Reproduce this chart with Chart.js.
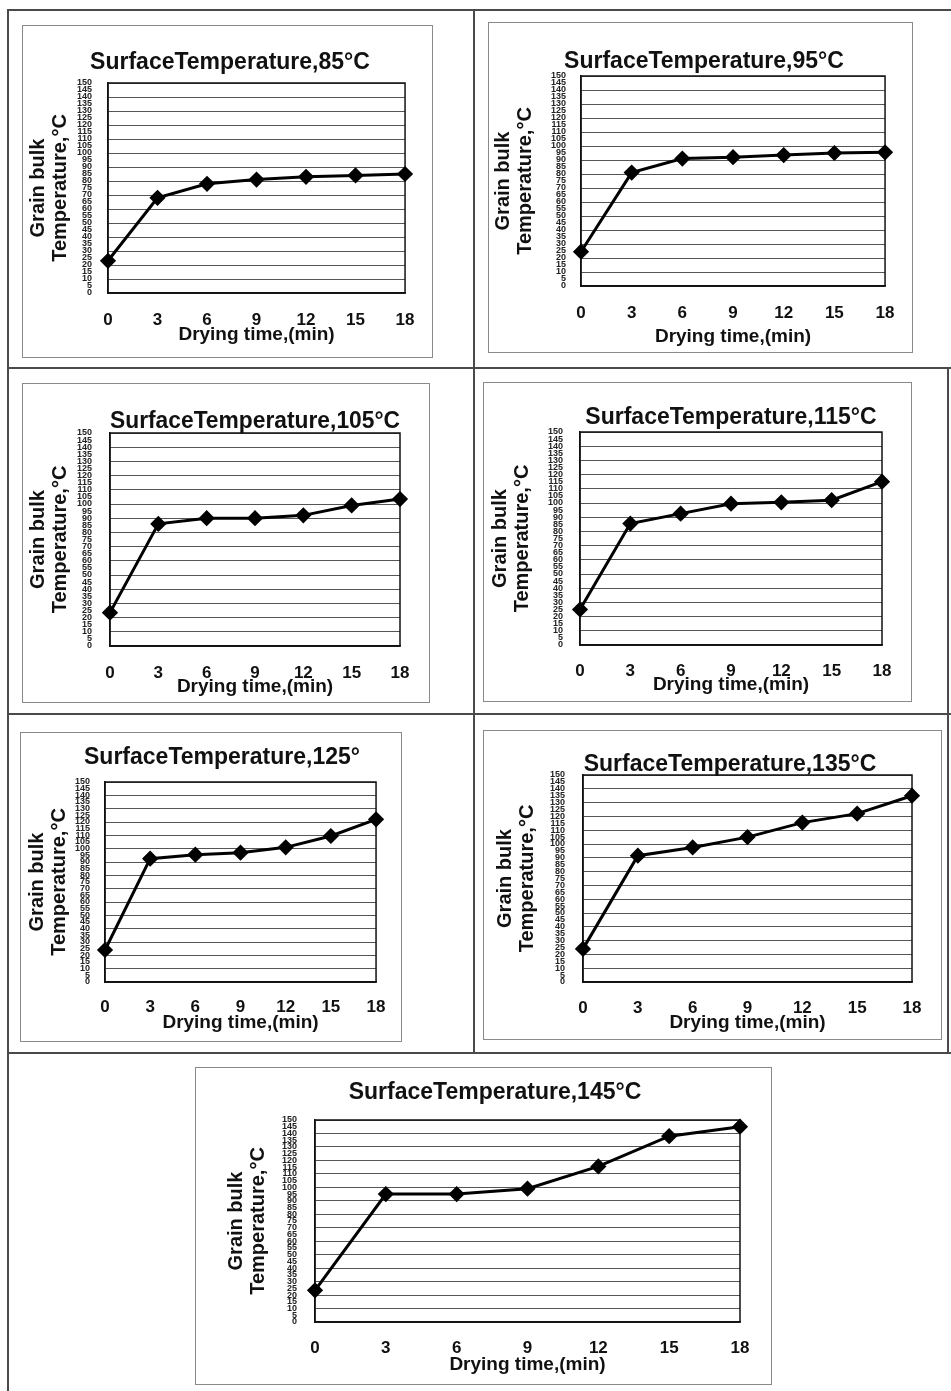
<!DOCTYPE html>
<html><head><meta charset="utf-8">
<script src="https://cdn.jsdelivr.net/npm/chart.js@4/dist/chart.umd.min.js"></script>
<style>
html,body{margin:0;padding:0;background:#fff;}
#page{position:relative;width:951px;height:1391px;overflow:hidden;background:#fff;}
.ln{position:absolute;background:#4a4a4a;}
.cv{position:absolute;}
.box{position:absolute;border:1.5px solid #8a8a8a;box-sizing:border-box;pointer-events:none;}
</style></head><body><div id="page"></div>
<script>
// ---------- data ----------
const dryingTimes = ['0', '3', '6', '9', '12', '15', '18'];
const chartTitles = [
  'SurfaceTemperature,85°C', 'SurfaceTemperature,95°C', 'SurfaceTemperature,105°C',
  'SurfaceTemperature,115°C', 'SurfaceTemperature,125°', 'SurfaceTemperature,135°C',
  'SurfaceTemperature,145°C'
];
const xAxisTitle = 'Drying time,(min)';
const yAxisTitle = ['Grain bulk', 'Temperature,°C'];
const bulk85  = [23, 68, 78, 81, 83, 84, 85];
const bulk95  = [24.5, 81, 91, 92, 93.5, 95, 95.5];
const bulk105 = [23.5, 86, 90, 90, 92, 99, 103.5];
const bulk115 = [25, 85.5, 92.5, 99.5, 100.5, 102, 115];
const bulk125 = [24, 92.5, 95.5, 97, 101, 109.5, 122];
const bulk135 = [24, 91.5, 97.5, 105, 115.5, 122, 135];
const bulk145 = [23.5, 95, 95, 99, 115.5, 138, 145];
const yMin = 0, yMax = 150, yStep = 5;
const allSeries = [bulk85, bulk95, bulk105, bulk115, bulk125, bulk135, bulk145];

// ---------- layout (positions only) ----------
const layouts = [
  {box:[22,25,433,358],   plot:[108,83,407,293],   tcx:230, tcy:63,   xtc:320,  xtt:335,  yt1:38,  ytr:92},
  {box:[488,22,913,353],  plot:[581,76,887,286],   tcx:704, tcy:62,   xtc:313,  xtt:337,  yt1:503, ytr:566},
  {box:[22,383,430,703],  plot:[110,433,400,646],  tcx:261, tcy:422,  xtc:673,  xtt:687,  yt1:38,  ytr:92},
  {box:[483,382,912,702], plot:[580,432,882,645],  tcx:727, tcy:418,  xtc:671,  xtt:685,  yt1:500, ytr:563},
  {box:[20,732,402,1042], plot:[105,782,378,982],  tcx:222, tcy:758,  xtc:1007, xtt:1023, yt1:37,  ytr:90},
  {box:[483,730,942,1040],plot:[583,775,912,982],  tcx:730, tcy:765,  xtc:1008, xtt:1023, yt1:505, ytr:565},
  {box:[195,1067,772,1385],plot:[315,1120,740,1322],tcx:495, tcy:1093, xtc:1348, xtt:1365, yt1:236, ytr:297}
];
const frameLines = [
  [8,9,951,2],[7,9,2,1382],[473,9,2,1045],[7,367,944,2],[7,713,944,2],[7,1052,944,2],[947,367,2,686]
];

Chart.defaults.font.family = "'Liberation Sans', Arial, sans-serif";
Chart.defaults.color = '#111';

const page = document.getElementById('page');
frameLines.forEach(([x,y,w,h]) => {
  const d = document.createElement('div');
  d.className = 'ln';
  Object.assign(d.style, {left:x+'px', top:y+'px', width:w+'px', height:h+'px'});
  page.appendChild(d);
});

const framePlugin = {
  id: 'plotFrame',
  beforeDatasetsDraw(chart) {
    const a = chart.chartArea, ctx = chart.ctx;
    ctx.save();
    ctx.strokeStyle = '#111';
    ctx.lineWidth = 1.5;
    ctx.strokeRect(a.left, a.top, a.right - a.left, a.bottom - a.top);
    ctx.restore();
  }
};

layouts.forEach((L, i) => {
  const [bx, by, bx2, by2] = L.box;
  const bw = bx2 - bx, bh = by2 - by;
  const [pl, pt, pr, pb] = L.plot;
  const padR = bx2 - pr;
  let padL = 2 * (L.tcx - bx) - bw + padR;
  let full = true;
  if (padL < 0 || padL > pl - bx - 10) { full = false; padL = 0; }
  const tSize = 23;
  const tPadTop = L.tcy - by - tSize / 2;
  const tPadBottom = pt - by - tPadTop - tSize;
  const xtSize = 17, xtlSize = 19, ytlLH = 22;

  const canvas = document.createElement('canvas');
  canvas.className = 'cv';
  canvas.width = bw; canvas.height = bh;
  Object.assign(canvas.style, {left:bx+'px', top:by+'px', width:bw+'px', height:bh+'px'});
  page.appendChild(canvas);
  const border = document.createElement('div');
  border.className = 'box';
  Object.assign(border.style, {left:bx+'px', top:by+'px', width:bw+'px', height:bh+'px'});
  page.appendChild(border);

  new Chart(canvas, {
    type: 'line',
    data: {
      labels: dryingTimes,
      datasets: [{
        data: allSeries[i],
        borderColor: '#000', backgroundColor: '#000', borderWidth: 3,
        pointStyle: 'rectRot', pointRadius: 6, pointBackgroundColor: '#000', pointBorderColor: '#000',
        tension: 0, clip: false
      }]
    },
    options: {
      responsive: false, animation: false, devicePixelRatio: 1,
      layout: {padding: {left: padL, right: padR, top: 0, bottom: 0}},
      plugins: {
        legend: {display: false}, tooltip: {enabled: false},
        title: {display: true, text: chartTitles[i], fullSize: full, color: '#111',
          font: {size: tSize, weight: 'bold', lineHeight: 1},
          padding: {top: tPadTop, bottom: tPadBottom}}
      },
      scales: {
        x: {
          type: 'category', offset: false,
          grid: {display: false, drawTicks: false},
          border: {display: true, color: '#111', width: 1.5},
          ticks: {autoSkip: false, maxRotation: 0, minRotation: 0, color: '#111',
            padding: L.xtc - pb - xtSize / 2,
            font: {size: xtSize, weight: 'bold', lineHeight: 1}},
          title: {display: true, text: xAxisTitle, color: '#111',
            font: {size: xtlSize, weight: 'bold', lineHeight: 1},
            padding: {top: 0, bottom: by2 - L.xtt - xtlSize / 2}},
          afterFit: s => { s.height = by2 - pb; }
        },
        y: {
          type: 'linear', min: yMin, max: yMax,
          ticks: {stepSize: yStep, autoSkip: false, color: '#222',
            padding: pl - L.ytr,
            font: {size: 9, weight: 'bold', lineHeight: 1}},
          grid: {drawTicks: false, lineWidth: 1,
            color: c => (c.tick && c.tick.value % 10 === 0) ? '#555' : 'rgba(0,0,0,0)'},
          border: {display: true, color: '#111', width: 1.5},
          title: {display: true, text: yAxisTitle, color: '#111',
            font: {size: 20, weight: 'bold', lineHeight: ytlLH / 20},
            padding: {top: L.yt1 - (bx + padL) - ytlLH / 2, bottom: 0}},
          afterFit: s => { s.width = pl - bx - padL; }
        }
      }
    },
    plugins: [framePlugin]
  });
});
</script>
</body></html>
